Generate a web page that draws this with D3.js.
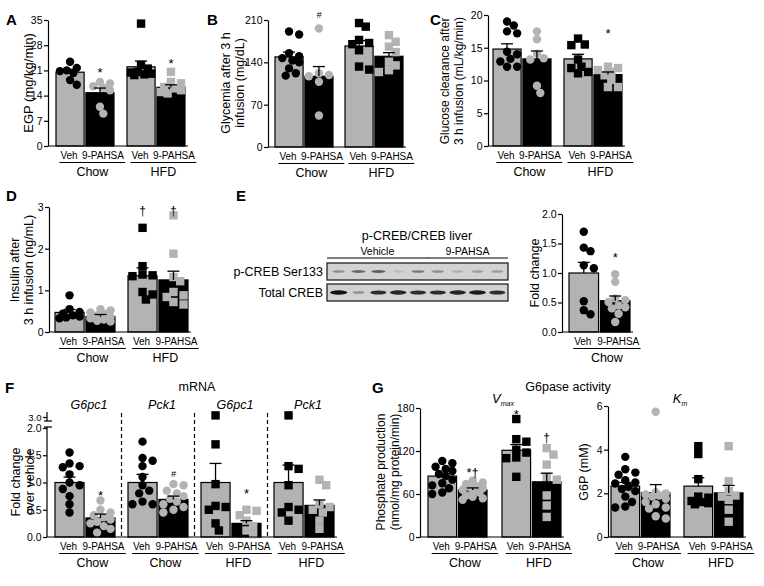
<!DOCTYPE html>
<html><head><meta charset="utf-8">
<script src="https://cdn.jsdelivr.net/npm/d3@7"></script>
<style>
body{margin:0;background:#fff}
svg{display:block}
text{font-family:"Liberation Sans",Arial,Helvetica,sans-serif;fill:#000}
</style>
</head><body>
<svg id="c" width="764" height="586"></svg>
<script>
// ---------------- DATA ----------------
const groups = ["Chow", "HFD"];
const treatments = ["Veh", "9-PAHSA"];

// A: EGP (mg/kg/min)
const egpTicks = [0, 7, 14, 21, 28, 35];
const egpMean = [20.5, 14.8, 22.0, 16.3];
const egpSem = [0.8, 1.3, 1.6, 0.7];
const egpPts = [
  [23.4, 21.7, 21.0, 20.8, 20.3, 18.3, 17.0],
  [17.8, 17.4, 16.6, 16.2, 15.5, 10.9, 9.0],
  [34.0, 22.5, 21.5, 20.6, 20.1, 19.7, 19.9, 20.4],
  [20.6, 17.8, 17.4, 16.4, 16.0, 15.5, 15.0, 14.6]];
const egpSig = ["", "*", "", "*"];
const egpSigAt = [0, 21.6, 0, 24.3];

// B: Glycemia (mg/dL)
const glyTicks = [0, 70, 140, 210];
const glyMean = [149, 117, 167, 150];
const glySem = [8, 16, 9, 6];
const glyPts = [
  [191, 186, 155, 150, 147, 143, 140, 130, 122, 118],
  [196, 122, 119, 117, 108, 52],
  [205, 199, 177, 172, 170, 160, 133, 128],
  [185, 174, 166, 157, 141, 135, 127, 124]];
const glySig = ["", "#", "", ""];
const glySigAt = [0, 219, 0, 0];

// C: Glucose clearance (mL/kg/min)
const gcTicks = [0, 5, 10, 15, 20];
const gcMean = [14.8, 13.3, 13.3, 10.9];
const gcSem = [0.8, 1.2, 0.7, 0.4];
const gcPts = [
  [19.0, 18.4, 17.5, 17.2, 14.4, 14.0, 13.3, 12.9, 12.1, 12.1],
  [17.5, 16.3, 14.1, 13.4, 13.2, 9.2, 8.1],
  [16.4, 15.4, 15.5, 13.2, 12.1, 11.3, 11.1, 11.9],
  [12.1, 11.9, 11.6, 11.3, 10.8, 10.1, 9.0, 9.0]];
const gcSig = ["", "", "", "*"];
const gcSigAt = [0, 0, 0, 17.9];

// D: Insulin (ng/mL)
const insTicks = [0, 1, 2, 3];
const insMean = [0.47, 0.37, 1.35, 1.25];
const insSem = [0.07, 0.05, 0.19, 0.21];
const insPts = [
  [0.88, 0.55, 0.48, 0.44, 0.40, 0.37, 0.35, 0.33],
  [0.55, 0.52, 0.47, 0.44, 0.40, 0.36, 0.33, 0.30, 0.27, 0.25],
  [2.50, 1.58, 1.34, 1.36, 1.38, 0.96, 0.90, 0.78],
  [2.80, 1.88, 1.32, 1.22, 0.96, 0.88, 0.84, 0.72, 0.66]];
const insSig = ["", "", "\u2020", "\u2020"];
const insSigAt = [0, 0, 2.92, 2.92];

// E: p-CREB/CREB blot + fold change
const blotLanes = ["Vehicle", "Vehicle", "Vehicle", "Vehicle", "Vehicle", "9-PAHSA", "9-PAHSA", "9-PAHSA", "9-PAHSA"];
const pcrebBands = [0.35, 0.55, 0.6, 0.12, 0.45, 0.35, 0.18, 0.28, 0.28];
const totalBands = [1.0, 0.3, 0.85, 0.9, 0.85, 0.85, 0.9, 0.95, 0.85];
const fcTicks = [0, 0.5, 1.0, 1.5, 2.0];
const fcMean = [1.0, 0.53];
const fcSem = [0.18, 0.08];
const fcPts = [
  [1.70, 1.43, 1.37, 1.13, 1.08, 0.52, 0.37, 0.30],
  [0.98, 0.85, 0.57, 0.54, 0.51, 0.45, 0.42, 0.40, 0.31, 0.17]];
const fcSig = ["", "*"];
const fcSigAt = [0, 1.34];

// F: mRNA fold change over vehicle
const mrnaGenes = ["G6pc1", "Pck1", "G6pc1", "Pck1"];
const mrnaDiets = ["Chow", "Chow", "HFD", "HFD"];
const mrnaTicks = [0, 0.5, 1.0, 1.5, 2.0];
const mrnaBreakTick = [3.0];
const mrnaMean = [1.0, 0.35, 1.0, 0.69, 1.0, 0.25, 1.0, 0.58];
const mrnaSem = [0.10, 0.07, 0.15, 0.06, 0.35, 0.05, 0.32, 0.10];
const mrnaPts = [
  [1.55, 1.35, 1.30, 1.28, 1.15, 1.00, 0.95, 0.88, 0.75, 0.60, 0.45],
  [0.67, 0.50, 0.45, 0.40, 0.36, 0.32, 0.28, 0.25, 0.20, 0.15, 0.08],
  [1.75, 1.45, 1.40, 1.30, 1.10, 0.95, 0.85, 0.80, 0.65, 0.60, 0.60],
  [0.97, 0.95, 0.85, 0.80, 0.75, 0.70, 0.65, 0.60, 0.55, 0.50, 0.45],
  [3.08, 1.70, 0.97, 0.57, 0.55, 0.50, 0.25, 0.12],
  [0.50, 0.48, 0.40, 0.30, 0.20, 0.12, 0.05],
  [3.08, 1.30, 1.25, 0.95, 0.55, 0.50, 0.45, 0.30],
  [1.05, 0.95, 0.60, 0.55, 0.50, 0.45, 0.30, 0.15]];
const mrnaSig = ["", "*", "", "#", "", "*", "", ""];
const mrnaSigAt = [0, 0.85, 0, 1.15, 0, 0.88, 0, 0];

// G: G6pase activity
const vmaxTicks = [0, 60, 120, 180];
const vmaxMean = [85, 65.5, 121, 77];
const vmaxSem = [3, 3, 8, 12];
const vmaxPts = [
  [106, 103, 98, 95, 92, 88, 85, 80, 75, 72, 68, 62, 60],
  [79, 76, 74, 71, 70, 68, 66, 64, 62, 58, 56, 54, 52],
  [164.6, 136.5, 133, 121.6, 117.8, 111, 110, 84],
  [124, 115, 101, 84, 80, 58, 44, 28]];
const vmaxSig = ["", "*\u2020", "*", "\u2020"];
const vmaxSigAt = [0, 96, 177, 139];

const kmTicks = [0, 2, 4, 6];
const kmMean = [2.33, 2.02, 2.33, 2.02];
const kmSem = [0.17, 0.38, 0.38, 0.34];
const kmPts = [
  [3.67, 3.10, 2.95, 2.85, 2.60, 2.50, 2.45, 2.30, 2.20, 2.10, 1.85, 1.60, 1.40, 1.35],
  [5.74, 2.05, 2.00, 1.95, 1.90, 1.85, 1.75, 1.60, 1.50, 1.35, 1.30, 0.95, 0.85],
  [4.16, 3.80, 2.65, 1.85, 1.80, 1.65, 1.60, 1.55, 1.50],
  [4.16, 2.55, 2.10, 1.90, 1.85, 1.70, 1.25, 0.70]];

// ---------------- DRAWING ----------------
const svg = d3.select("#c");
const GRAY = "#b3b3b3";
const FONT = '"Liberation Sans",Arial,Helvetica,sans-serif';
const TICK_FS = 10.5, CAT_FS = 10, GRP_FS = 12.5;

function swarm(vals, cx, y, r, maxOff) {
  const pts = vals.map(v => ({v, py: y(v)})).sort((a, b) => a.py - b.py);
  const placed = [];
  const step = r * 0.8;
  pts.forEach(p => {
    let best = 0, bestD = -1;
    for (let k = 0; k < 60; k++) {
      const c = k === 0 ? 0 : (k % 2 ? 1 : -1) * Math.ceil(k / 2) * step;
      if (Math.abs(c) > maxOff) continue;
      const dmin = placed.length ? d3.min(placed, q => Math.hypot(q.px - (cx + c), q.py - p.py)) : Infinity;
      if (dmin >= 2 * r * 0.9) { best = c; break; }
      if (dmin > bestD) { bestD = dmin; best = c; }
    }
    p.px = cx + best;
    placed.push(p);
  });
  return placed;
}

function yTitle(lines, x, ymid, size) {
  lines.forEach((t, i) => {
    svg.append("text")
      .attr("transform", `translate(${x[i]},${ymid}) rotate(-90)`)
      .attr("text-anchor", "middle").attr("dy", "0.35em")
      .style("font-size", size + "px").text(t);
  });
}

function letter(t, x, y) {
  svg.append("text").attr("x", x).attr("y", y).style("font-size", "15px")
    .style("font-weight", "bold").text(t);
}

function yAxis(y, ax, ticks, fmt, fs) {
  const g = svg.append("g").attr("transform", `translate(${ax},0)`)
    .call(d3.axisLeft(y).tickValues(ticks).tickFormat(fmt).tickSize(4).tickSizeOuter(0).tickPadding(1.5));
  g.select(".domain").attr("stroke", "#000").attr("stroke-width", 1.2);
  g.selectAll(".tick line").attr("stroke", "#000").attr("stroke-width", 1.2);
  g.selectAll(".tick text").style("font-size", (fs || TICK_FS) + "px").style("font-family", FONT).attr("fill", "#000");
  return g;
}

// generic grouped bar panel
function barPanel(o) {
  const n = o.groupLabels.length;
  const outer = d3.scaleBand().domain(d3.range(n))
    .range([o.x0, o.x0 + n * o.gw + (n - 1) * o.gap])
    .paddingInner(n > 1 ? o.gap / (o.gw + o.gap) : 0).paddingOuter(0);
  const inner = d3.scaleBand().domain(treatments).range([0, o.gw]).paddingInner(0.06);
  const y = o.y;
  const base = y(0);
  const bars = [];
  d3.range(n).forEach(gi => treatments.forEach((t, ti) => {
    const i = gi * 2 + ti;
    bars.push({gi, ti, t, x: outer(gi) + inner(t), w: inner.bandwidth(),
      mean: o.mean[i], sem: o.sem[i], pts: o.pts[i], sig: o.sig ? o.sig[i] : "",
      sigAt: o.sigAt ? o.sigAt[i] : 0, shape: o.shapes[gi]});
  }));
  const g = svg.append("g");
  g.selectAll("rect.bar").data(bars).join("rect").attr("class", "bar")
    .attr("x", d => d.x).attr("width", d => d.w)
    .attr("y", d => y(d.mean)).attr("height", d => base - y(d.mean))
    .attr("fill", d => d.ti === 0 ? GRAY : "#000")
    .attr("stroke", "#000").attr("stroke-width", 1.2);
  const r = 4.2;
  bars.forEach(b => {
    const pl = swarm(b.pts, b.x + b.w / 2, y, r, b.w / 2 - 3);
    const col = b.ti === 0 ? "#000" : GRAY;
    if (b.shape === "circle") {
      g.selectAll(null).data(pl).join("circle")
        .attr("cx", p => p.px).attr("cy", p => p.py).attr("r", r).attr("fill", col);
    } else {
      g.selectAll(null).data(pl).join("rect")
        .attr("x", p => p.px - r).attr("y", p => p.py - r)
        .attr("width", 2 * r).attr("height", 2 * r).attr("fill", col);
    }
  });
  bars.forEach(b => {
    const cx = b.x + b.w / 2, yt = y(b.mean + b.sem);
    g.append("line").attr("x1", cx).attr("x2", cx).attr("y1", y(b.mean)).attr("y2", yt)
      .attr("stroke", "#000").attr("stroke-width", 1.3);
    g.append("line").attr("x1", cx - 6).attr("x2", cx + 6).attr("y1", yt).attr("y2", yt)
      .attr("stroke", "#000").attr("stroke-width", 1.3);
    if (b.sig) {
      const isStar = b.sig.indexOf("*") >= 0;
      g.append("text").attr("x", cx).attr("y", y(b.sigAt)).attr("dy", isStar ? "0.7em" : "0.35em")
        .attr("text-anchor", "middle")
        .style("font-size", b.sig === "#" ? "9px" : (isStar ? "13px" : "12px"))
        .style("font-style", b.sig === "#" ? "italic" : "normal")
        .text(b.sig);
    }
  });
  if (!o.noAxis) yAxis(y, o.ax, o.ticks, o.fmt);
  const xEnd = bars[bars.length - 1].x + bars[bars.length - 1].w + 3;
  g.append("line").attr("x1", o.ax).attr("x2", xEnd).attr("y1", base).attr("y2", base)
    .attr("stroke", "#000").attr("stroke-width", 1.2);
  d3.range(n).forEach(gi => {
    const bb = bars.filter(b => b.gi === gi);
    let x1 = Infinity, x2 = -Infinity;
    bb.forEach(b => {
      const t = g.append("text").attr("x", b.x + b.w / 2 + (b.ti === 1 ? 3 : -1)).attr("y", base + 13)
        .attr("text-anchor", "middle").style("font-size", CAT_FS + "px").text(b.t);
      const box = t.node().getBBox();
      x1 = Math.min(x1, box.x); x2 = Math.max(x2, box.x + box.width);
    });
    x1 -= 1; x2 += 1;
    g.append("line").attr("x1", x1).attr("x2", x2).attr("y1", base + 16.5).attr("y2", base + 16.5)
      .attr("stroke", "#000").attr("stroke-width", 1.2);
    g.append("text").attr("x", (x1 + x2) / 2).attr("y", base + 30).attr("text-anchor", "middle")
      .style("font-size", GRP_FS + "px").text(o.groupLabels[gi]);
  });
  return {outer, bars, base};
}

const fmtInt = d3.format("d");
const fmt1 = d3.format(".1f");

// ----- A -----
letter("A", 6, 25);
barPanel({ax: 48, x0: 56, gw: 58, gap: 13, groupLabels: groups, shapes: ["circle", "square"],
  y: d3.scaleLinear().domain([0, 35]).range([146, 20]), ticks: egpTicks, fmt: fmtInt,
  mean: egpMean, sem: egpSem, pts: egpPts, sig: egpSig, sigAt: egpSigAt});
yTitle(["EGP (mg/kg/min)"], [28], 83, 13);

// ----- B -----
letter("B", 207, 25);
barPanel({ax: 268, x0: 275, gw: 58, gap: 12, groupLabels: groups, shapes: ["circle", "square"],
  y: d3.scaleLinear().domain([0, 210]).range([147, 20]), ticks: glyTicks, fmt: fmtInt,
  mean: glyMean, sem: glySem, pts: glyPts, sig: glySig, sigAt: glySigAt});
yTitle(["Glycemia after 3 h", "infusion (mg/dL)"], [226, 240], 83, 12.5);

// ----- C -----
letter("C", 430, 25);
barPanel({ax: 488, x0: 493, gw: 58, gap: 13, groupLabels: groups, shapes: ["circle", "square"],
  y: d3.scaleLinear().domain([0, 20]).range([146, 15]), ticks: gcTicks, fmt: fmtInt,
  mean: gcMean, sem: gcSem, pts: gcPts, sig: gcSig, sigAt: gcSigAt});
yTitle(["Glucose clearance after", "3 h infusion (mL/kg/min)"], [445, 459], 81, 12);

// ----- D -----
letter("D", 6, 201);
barPanel({ax: 49, x0: 55, gw: 60, gap: 13, groupLabels: groups, shapes: ["circle", "square"],
  y: d3.scaleLinear().domain([0, 3]).range([332, 207]), ticks: insTicks, fmt: fmtInt,
  mean: insMean, sem: insSem, pts: insPts, sig: insSig, sigAt: insSigAt});
yTitle(["Insulin after", "3 h infusion (ng/mL)"], [15, 29], 270, 12.5);

// ----- E -----
letter("E", 236, 201);
(function blot() {
  const lane = d3.scaleBand().domain(d3.range(blotLanes.length)).range([329, 507]).paddingInner(0.12).paddingOuter(0.05);
  const rows = [{y0: 263, h: 17, bands: pcrebBands, bh: 3.5, label: "p-CREB Ser133"},
                {y0: 284, h: 17, bands: totalBands, bh: 4.5, label: "Total CREB"}];
  rows.forEach(rw => {
    svg.append("rect").attr("x", 327).attr("y", rw.y0).attr("width", 181).attr("height", rw.h)
      .attr("fill", "#d2d2d2").attr("stroke", "#222").attr("stroke-width", 1.3);
    svg.selectAll(null).data(rw.bands).join("ellipse")
      .attr("cx", (d, i) => lane(i) + lane.bandwidth() / 2)
      .attr("rx", d => lane.bandwidth() / 2 * (0.55 + 0.45 * d))
      .attr("cy", rw.y0 + rw.h / 2).attr("ry", d => rw.bh / 2 * (0.6 + 0.4 * d))
      .attr("fill", "#111").attr("opacity", d => d);
    svg.append("text").attr("x", 323).attr("y", rw.y0 + rw.h / 2).attr("dy", "0.35em")
      .attr("text-anchor", "end").style("font-size", "12.5px").text(rw.label);
  });
  svg.append("text").attr("x", 417).attr("y", 240).attr("text-anchor", "middle")
    .style("font-size", "12.5px").text("p-CREB/CREB liver");
  const names = Array.from(new Set(blotLanes));
  names.forEach(nm => {
    const idx = d3.range(blotLanes.length).filter(i => blotLanes[i] === nm);
    const x1 = nm === names[0] ? 327 : lane(idx[0]) - 2;
    const x2 = nm === names[0] ? lane(idx[idx.length - 1]) + lane.bandwidth() + 1 : 508;
    svg.append("line").attr("x1", x1).attr("x2", x2).attr("y1", 258).attr("y2", 258)
      .attr("stroke", "#000").attr("stroke-width", 1.2);
    svg.append("text").attr("x", (x1 + x2) / 2).attr("y", 255).attr("text-anchor", "middle")
      .style("font-size", "10.5px").text(nm);
  });
})();
barPanel({ax: 562, x0: 569, gw: 61, gap: 0, groupLabels: ["Chow"], shapes: ["circle"],
  y: d3.scaleLinear().domain([0, 2]).range([332, 214]), ticks: fcTicks, fmt: fmt1,
  mean: fcMean, sem: fcSem, pts: fcPts, sig: fcSig, sigAt: fcSigAt});
yTitle(["Fold change"], [535], 273, 12.5);

// ----- F -----
letter("F", 5, 393);
(function panelF() {
  const lower = d3.scaleLinear().domain([0, 2]).range([537, 428]);
  const upper = d3.scaleLinear().domain([2.85, 3.2]).range([420, 413]);
  const fy = v => v > 2.4 ? upper(v) : lower(v);
  const res = barPanel({ax: 47, x0: 55, gw: 60, gap: 13, groupLabels: mrnaDiets,
    shapes: ["circle", "circle", "square", "square"], y: fy, noAxis: true,
    mean: mrnaMean, sem: mrnaSem, pts: mrnaPts, sig: mrnaSig, sigAt: mrnaSigAt});
  const ga = yAxis(lower, 47, mrnaTicks, fmt1);
  ga.select(".domain").attr("d", "M0,537V427");
  const gu = yAxis(upper, 47, mrnaBreakTick, fmt1, 9.5);
  gu.select(".domain").attr("d", "M0,421V412");
  svg.append("line").attr("x1", 44).attr("x2", 52).attr("y1", 421).attr("y2", 421).attr("stroke", "#000").attr("stroke-width", 1.2);
  svg.append("line").attr("x1", 44).attr("x2", 52).attr("y1", 427).attr("y2", 427).attr("stroke", "#000").attr("stroke-width", 1.2);
  d3.range(mrnaGenes.length).forEach(i => {
    const cx = res.outer(i) + res.outer.bandwidth() / 2;
    svg.append("text").attr("x", cx + 4).attr("y", 409).attr("text-anchor", "middle")
      .style("font-size", "12.5px").style("font-style", "italic").text(mrnaGenes[i]);
    if (i > 0) {
      const xs = res.outer(i) - 13 / 2;
      svg.append("line").attr("x1", xs).attr("x2", xs).attr("y1", 413).attr("y2", 537)
        .attr("stroke", "#000").attr("stroke-width", 1.2).attr("stroke-dasharray", "4,3");
    }
  });
  svg.append("text").attr("x", 197).attr("y", 391).attr("text-anchor", "middle")
    .style("font-size", "12.5px").text("mRNA");
  yTitle(["Fold change", "over vehicle"], [16, 30], 482, 12.5);
})();

// ----- G -----
letter("G", 372, 393);
svg.append("text").attr("x", 568).attr("y", 391).attr("text-anchor", "middle")
  .style("font-size", "12.5px").text("G6pase activity");
barPanel({ax: 420, x0: 428, gw: 59, gap: 15, groupLabels: groups, shapes: ["circle", "square"],
  y: d3.scaleLinear().domain([0, 180]).range([537, 408]), ticks: vmaxTicks, fmt: fmtInt,
  mean: vmaxMean, sem: vmaxSem, pts: vmaxPts, sig: vmaxSig, sigAt: vmaxSigAt});
yTitle(["Phosphate production", "(nmol/mg protein/min)"], [381, 395], 472, 12);
barPanel({ax: 608, x0: 611, gw: 59, gap: 14, groupLabels: groups, shapes: ["circle", "square"],
  y: d3.scaleLinear().domain([0, 6]).range([537, 406]), ticks: kmTicks, fmt: fmtInt,
  mean: kmMean, sem: kmSem, pts: kmPts});
yTitle(["G6P (mM)"], [584], 472, 12.5);
function subLabel(main, sub, x, y) {
  const t = svg.append("text").attr("x", x).attr("y", y).attr("text-anchor", "middle")
    .style("font-size", "13px").style("font-style", "italic");
  t.append("tspan").text(main);
  t.append("tspan").attr("dy", 3).style("font-size", "7px").text(sub);
}
subLabel("V", "max", 503, 403);
subLabel("K", "m", 680, 403);
</script>
</body></html>
